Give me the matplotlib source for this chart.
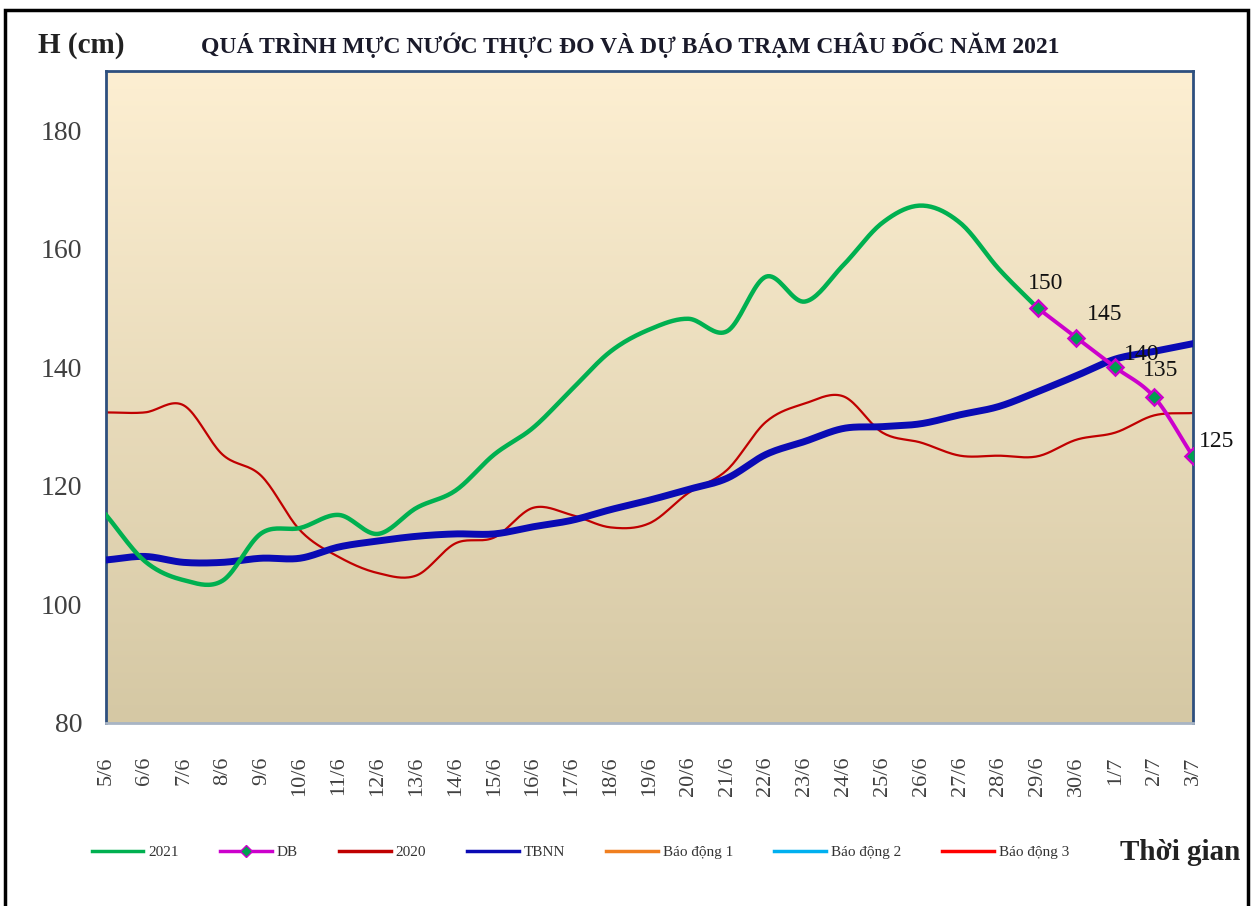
import numpy as np
import matplotlib
matplotlib.use("Agg")
import matplotlib.pyplot as plt
from matplotlib.patches import Rectangle
from matplotlib.lines import Line2D

plt.rcParams['font.family'] = ['Liberation Serif', 'DejaVu Serif']

dates = ['5/6', '6/6', '7/6', '8/6', '9/6', '10/6', '11/6', '12/6', '13/6', '14/6',
         '15/6', '16/6', '17/6', '18/6', '19/6', '20/6', '21/6', '22/6', '23/6', '24/6',
         '25/6', '26/6', '27/6', '28/6', '29/6', '30/6', '1/7', '2/7', '3/7']

h2021 = [115.1, 107.3, 104.1, 104.0, 112.0, 112.9, 115.1, 111.9, 116.3, 119.2,
         125.3, 129.8, 136.3, 142.7, 146.4, 148.2, 146.1, 155.3, 151.1, 157.3,
         164.4, 167.3, 164.4, 156.6, 150.0]
db = [150, 145, 140, 135, 125]
db_start = 24
h2020 = [132.4, 132.4, 133.6, 125.3, 121.7, 112.5, 108.0, 105.3, 104.9, 110.3,
         111.3, 116.3, 115.1, 113.0, 113.7, 118.8, 122.7, 130.8, 133.9, 135.1,
         129.0, 127.3, 125.1, 125.1, 125.0, 127.8, 129.0, 131.9, 132.3]
tbnn = [107.5, 108.1, 107.1, 107.1, 107.8, 107.8, 109.7, 110.7, 111.5, 111.9,
        111.9, 113.1, 114.2, 116.0, 117.6, 119.4, 121.3, 125.3, 127.5, 129.7,
        130.0, 130.5, 132.0, 133.4, 135.9, 138.6, 141.4, 142.7, 144.0]
bao_dong = {'Báo động 1': 350, 'Báo động 2': 400, 'Báo động 3': 450}
bd_colors = {'Báo động 1': '#F07F1F', 'Báo động 2': '#00B0F0', 'Báo động 3': '#FF0000'}
db_offsets = [(6, 18), (20, 17), (19, 9), (5, 19), (17, 11)]


def smooth(x, y, n=20):
    # Catmull-Rom style smoothing, close to Excel's "smoothed line"
    x = np.asarray(x, float)
    y = np.asarray(y, float)
    px = np.concatenate([[2 * x[0] - x[1]], x, [2 * x[-1] - x[-2]]])
    py = np.concatenate([[2 * y[0] - y[1]], y, [2 * y[-1] - y[-2]]])
    t = np.linspace(0, 1, n, endpoint=False)
    xs, ys = [], []
    for i in range(1, len(px) - 2):
        for p, out in ((px, xs), (py, ys)):
            p0, p1, p2, p3 = p[i - 1], p[i], p[i + 1], p[i + 2]
            out.extend(0.5 * (2 * p1 + (-p0 + p2) * t + (2 * p0 - 5 * p1 + 4 * p2 - p3) * t ** 2
                              + (-p0 + 3 * p1 - 3 * p2 + p3) * t ** 3))
    xs.append(x[-1])
    ys.append(y[-1])
    return np.array(xs), np.array(ys)


fig = plt.figure(figsize=(12.56, 9.06), dpi=100)
ax = fig.add_axes([0.0844, 0.202, 0.8654, 0.7196])

# gradient background
grad = np.linspace(0, 1, 256)[:, None]
top = np.array([253, 239, 210]) / 255
bot = np.array([213, 200, 164]) / 255
img = top + (bot - top) * grad[..., None]
ax.imshow(img, extent=[0, 1, 0, 1], transform=ax.transAxes, aspect='auto', zorder=0)

xi = np.arange(len(dates))
for name, lvl in bao_dong.items():
    ax.plot(xi, [lvl] * len(xi), color=bd_colors[name], lw=2)

ax.plot(*smooth(xi, h2020), color='#C00000', lw=1.6, zorder=2)
ax.plot(*smooth(xi, tbnn), color='#0A0AB4', lw=5, zorder=3)
ax.plot(*smooth(xi[:len(h2021)], h2021), color='#00B050', lw=3.2, zorder=4)
xd = xi[db_start:db_start + len(db)]
ax.plot(*smooth(xd, db), color='#CC00CC', lw=2.8, zorder=5)
ax.plot(xd, db, ls='none', marker='D', ms=8, mfc='#00A050', mec='#CC00CC', mew=1.8, zorder=6)
for x, v, off in zip(xd, db, db_offsets):
    ax.annotate(str(v), (x, v), xytext=off, textcoords='offset points',
                ha='center', va='center', fontsize=17, color='#111111', zorder=7)

ax.set_xlim(0, len(dates) - 1)
ax.set_ylim(80, 190)
ax.set_yticks(range(80, 181, 20))
ax.set_xticks(xi)
ax.set_xticklabels(dates, rotation=90, fontsize=16, color='#404040')
ax.tick_params(axis='y', labelsize=20, labelcolor='#404040', length=0, pad=17)
ax.tick_params(axis='x', length=0, pad=24)
for s in ax.spines.values():
    s.set_color('#2E4F7E')
    s.set_linewidth(2)
ax.spines['bottom'].set_color('#A8B4C4')

fig.text(0.065, 0.950, 'H (cm)', fontsize=21, fontweight='bold', color='#222222',
         ha='center', va='center')
fig.text(0.502, 0.950, 'QUÁ TRÌNH MỰC NƯỚC THỰC ĐO VÀ DỰ BÁO TRẠM CHÂU ĐỐC NĂM 2021',
         fontsize=17, fontweight='bold', color='#1A1A2A', ha='center', va='center')
fig.text(0.9395, 0.059, 'Thời gian', fontsize=21, fontweight='bold', color='#222222',
         ha='center', va='center')

handles = [
    Line2D([], [], color='#00B050', lw=2.5),
    Line2D([], [], color='#CC00CC', lw=2.5, marker='D', ms=6, mfc='#00A050', mec='#CC00CC'),
    Line2D([], [], color='#C00000', lw=2.5),
    Line2D([], [], color='#0A0AB4', lw=2.5),
    Line2D([], [], color=bd_colors['Báo động 1'], lw=2.5),
    Line2D([], [], color=bd_colors['Báo động 2'], lw=2.5),
    Line2D([], [], color=bd_colors['Báo động 3'], lw=2.5),
]
labels = ['2021', 'DB', '2020', 'TBNN', 'Báo động 1', 'Báo động 2', 'Báo động 3']
fig.legend(handles, labels, loc='center', bbox_to_anchor=(0.462, 0.059), ncol=7,
           frameon=False, fontsize=11, handlelength=3.4, handletextpad=0.3,
           columnspacing=2.7, labelcolor='#333333')

fig.patches.append(Rectangle((5 / 1256, -0.05), 1243 / 1256, 1 - 10 / 906 + 0.05,
                             transform=fig.transFigure, fill=False, ec='black', lw=2.5))

fig.savefig('out.png', dpi=100)
